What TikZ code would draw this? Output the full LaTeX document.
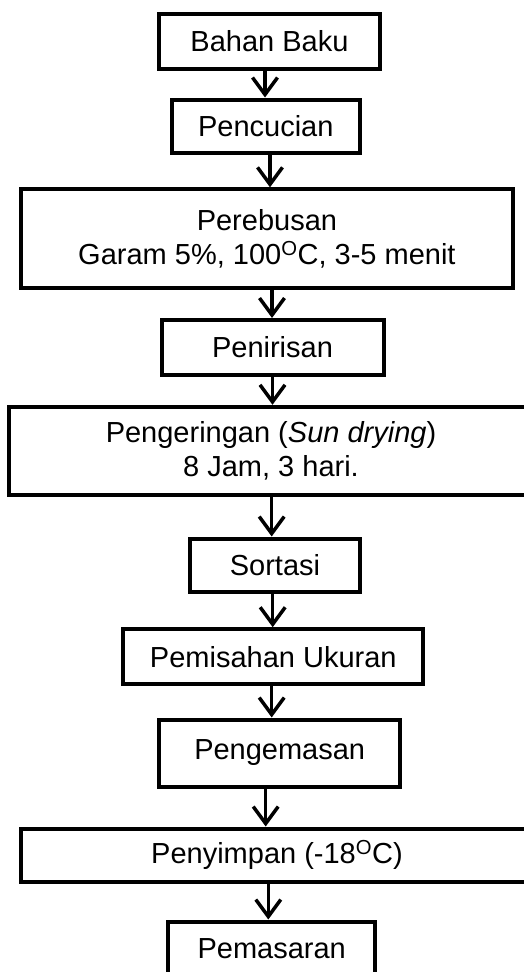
\documentclass[tikz,border=0pt]{standalone}
\usepackage{fontspec}
\setmainfont{Liberation Sans}
\usetikzlibrary{arrows.meta}
\begin{document}
\begin{tikzpicture}[
  x=1pt,y=1pt,
  box/.style={draw=black,line width=4pt,rectangle,inner sep=0pt,align=center,
    font=\fontsize{29pt}{34pt}\selectfont},
  arr/.style={line width=3.5pt,-{Straight Barb[length=17pt,width=25pt,line width=3.5pt]}}
]
\useasboundingbox (0,-972) rectangle (523,0);
\fill[white] (0,-972) rectangle (523,0);
\node[box,minimum width=221pt,minimum height=55pt] (b1) at (269.5,-41.5) {Bahan Baku};
\node[box,minimum width=188pt,minimum height=53pt] (b2) at (265.8,-126) {Pencucian};
\node[box,minimum width=492pt,minimum height=99pt] (b3) at (266.9,-238.8) {Perebusan\\Garam 5\%, 100\textsuperscript{O}C, 3-5 menit};
\node[box,minimum width=222pt,minimum height=55pt] (b4) at (272.5,-347.5) {Penirisan};
\node[box,minimum width=524pt,minimum height=88pt] (b5) at (271,-450.8) {Pengeringan (\textit{Sun drying})\\8 Jam, 3 hari.};
\node[box,minimum width=170pt,minimum height=53pt] (b6) at (275,-565) {Sortasi};
\node[box,minimum width=300pt,minimum height=55pt] (b7) at (273.3,-656.7) {Pemisahan Ukuran};
\node[box,minimum width=241pt,minimum height=67pt] (b8) at (279.7,-753) {Pengemasan};
\node[box,minimum width=512pt,minimum height=53pt] (b9) at (277,-855) {Penyimpan (-18\textsuperscript{O}C)};
\node[box,minimum width=207pt,minimum height=55pt] (b10) at (271.7,-949) {Pemasaran};
\coordinate (x1) at (265,0);
\coordinate (x2) at (270,0);
\coordinate (x3) at (272,0);
\coordinate (x4) at (272.5,0);
\coordinate (x5) at (271.7,0);
\coordinate (x6) at (272.7,0);
\coordinate (x7) at (271.7,0);
\coordinate (x8) at (265.7,0);
\coordinate (x9) at (268.3,0);
\draw[arr] (b1.south -| x1) -- (b2.north -| x1);
\draw[arr] (b2.south -| x2) -- (b3.north -| x2);
\draw[arr] (b3.south -| x3) -- (b4.north -| x3);
\draw[arr] (b4.south -| x4) -- (b5.north -| x4);
\draw[arr] (b5.south -| x5) -- (b6.north -| x5);
\draw[arr] (b6.south -| x6) -- (b7.north -| x6);
\draw[arr] (b7.south -| x7) -- (b8.north -| x7);
\draw[arr] (b8.south -| x8) -- (b9.north -| x8);
\draw[arr] (b9.south -| x9) -- (b10.north -| x9);
\end{tikzpicture}
\end{document}
